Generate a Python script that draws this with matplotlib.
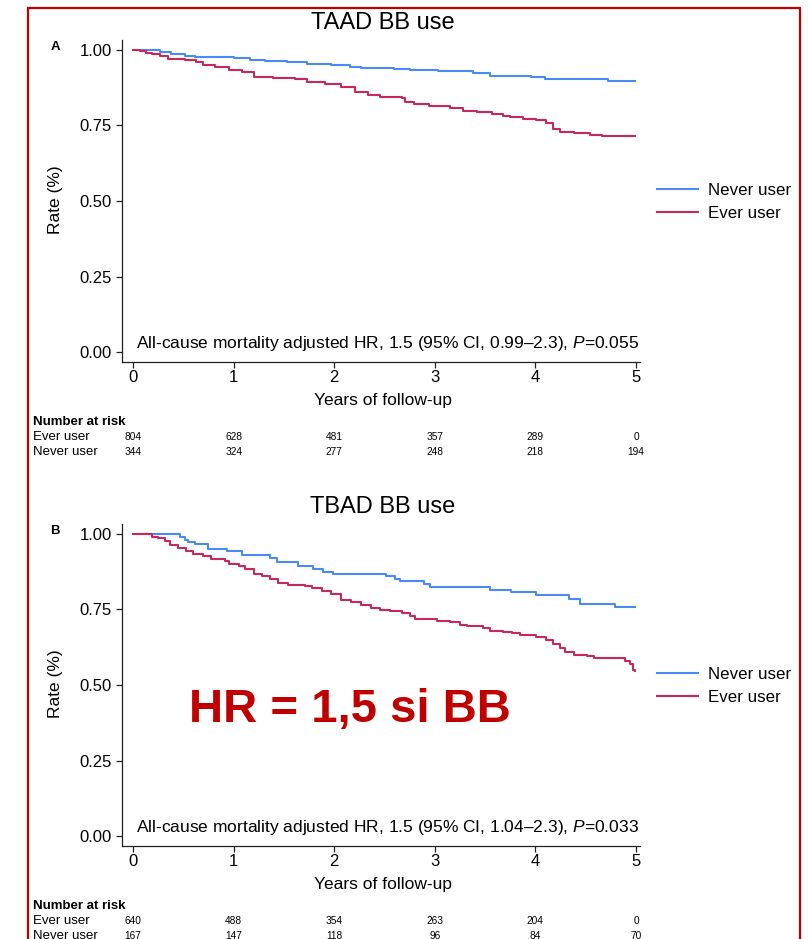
import matplotlib
matplotlib.use('Agg')
import matplotlib.pyplot as plt
from matplotlib.transforms import blended_transform_factory
from matplotlib.patches import Rectangle

plt.rcParams['font.family'] = ['Liberation Sans', 'DejaVu Sans']
plt.rcParams['mathtext.fontset'] = 'custom'
plt.rcParams['mathtext.rm'] = 'Liberation Sans'
plt.rcParams['mathtext.it'] = 'Liberation Sans:italic'

# --- data ---
years = [0, 1, 2, 3, 4, 5]

# TAAD
taad_never_t = [0, 0.27, 0.38, 0.52, 0.62, 1.00, 1.16, 1.31, 1.53, 1.73, 1.97, 2.16, 2.27, 2.59, 2.75,
                3.03, 3.38, 3.55, 3.96, 4.10, 4.72, 4.99]
taad_never_s = [1.0, 0.992, 0.987, 0.981, 0.976, 0.972, 0.967, 0.965, 0.959, 0.954, 0.950, 0.945, 0.940,
                0.937, 0.934, 0.930, 0.923, 0.915, 0.910, 0.903, 0.897, 0.897]
taad_ever_t = [0, 0.07, 0.13, 0.19, 0.27, 0.35, 0.52, 0.63, 0.70, 0.82, 0.95, 1.08, 1.20, 1.39, 1.61,
               1.73, 1.91, 2.07, 2.21, 2.34, 2.46, 2.67, 2.70, 2.79, 2.94, 3.15, 3.28, 3.42, 3.57, 3.68,
               3.75, 3.88, 4.01, 4.11, 4.18, 4.24, 4.38, 4.54, 4.66, 4.99]
taad_ever_s = [1.0, 0.995, 0.990, 0.987, 0.981, 0.970, 0.967, 0.959, 0.950, 0.943, 0.934, 0.926, 0.912,
               0.906, 0.904, 0.893, 0.887, 0.879, 0.860, 0.851, 0.845, 0.842, 0.829, 0.821, 0.816, 0.807,
               0.799, 0.794, 0.788, 0.782, 0.777, 0.771, 0.767, 0.757, 0.738, 0.727, 0.724, 0.719, 0.714,
               0.714]
taad_risk_ever = [804, 628, 481, 357, 289, 0]
taad_risk_never = [344, 324, 277, 248, 218, 194]

# TBAD
tbad_never_t = [0, 0.467, 0.517, 0.55, 0.616, 0.75, 0.93, 1.08, 1.36, 1.43, 1.64, 1.79, 1.89, 1.99, 2.52,
                2.60, 2.65, 2.89, 2.95, 3.55, 3.76, 4.01, 4.33, 4.44, 4.79, 4.99]
tbad_never_s = [1.0, 0.989, 0.980, 0.974, 0.966, 0.950, 0.943, 0.932, 0.921, 0.906, 0.894, 0.883, 0.874,
                0.869, 0.860, 0.850, 0.843, 0.833, 0.824, 0.816, 0.808, 0.799, 0.786, 0.767, 0.757, 0.757]
tbad_ever_t = [0, 0.12, 0.19, 0.25, 0.32, 0.37, 0.45, 0.53, 0.60, 0.70, 0.78, 0.91, 0.95, 1.05, 1.11,
               1.20, 1.28, 1.36, 1.44, 1.54, 1.71, 1.78, 1.88, 1.97, 2.07, 2.17, 2.27, 2.37, 2.455, 2.55,
               2.67, 2.75, 2.80, 3.02, 3.15, 3.25, 3.32, 3.48, 3.55, 3.68, 3.77, 3.85, 3.95, 4.01, 4.11,
               4.18, 4.24, 4.29, 4.38, 4.51, 4.58, 4.89, 4.94, 4.97, 4.99]
tbad_ever_s = [1.0, 0.999, 0.991, 0.986, 0.977, 0.963, 0.952, 0.943, 0.933, 0.928, 0.917, 0.911, 0.900,
               0.893, 0.883, 0.867, 0.860, 0.852, 0.839, 0.832, 0.828, 0.821, 0.811, 0.800, 0.783, 0.774,
               0.766, 0.754, 0.749, 0.745, 0.738, 0.728, 0.719, 0.713, 0.708, 0.700, 0.695, 0.688, 0.680,
               0.677, 0.672, 0.667, 0.666, 0.658, 0.649, 0.635, 0.622, 0.608, 0.600, 0.597, 0.589, 0.578,
               0.569, 0.549, 0.547]
tbad_risk_ever = [640, 488, 354, 263, 204, 0]
tbad_risk_never = [167, 147, 118, 96, 84, 70]

BLUE = '#4a8af4'
RED = '#c8285c'
DARK = '#222222'

W, H = 808, 939
fig = plt.figure(figsize=(W / 100, H / 100), dpi=100)


def fx(px):
    return px / W


def fy(py):
    return 1 - py / H


def panel(top, letter, title, t_never, s_never, t_ever, s_ever, note, risk_ever, risk_never):
    ax = fig.add_axes([fx(122), fy(top + 322), fx(640) - fx(122), 322 / H])
    l1, = ax.plot(t_never, s_never, drawstyle='steps-post', color=BLUE, lw=1.5)
    l2, = ax.plot(t_ever, s_ever, drawstyle='steps-post', color=RED, lw=1.5)
    ax.set_xlim(-0.109, 5.04)
    ax.set_ylim(-0.033, 1.033)
    ax.set_xticks(years)
    ax.set_yticks([0, 0.25, 0.5, 0.75, 1.0])
    ax.set_yticklabels(['0.00', '0.25', '0.50', '0.75', '1.00'])
    for s in ['top', 'right']:
        ax.spines[s].set_visible(False)
    for s in ['left', 'bottom']:
        ax.spines[s].set_color(DARK)
        ax.spines[s].set_linewidth(0.9)
    ax.tick_params(axis='both', length=4.5, width=0.9, color=DARK, labelsize=12)
    ax.tick_params(axis='x', pad=1.5)
    ax.tick_params(axis='y', pad=3)

    ax.text(5.03, 0.028, note, ha='right', va='center', fontsize=12.5)
    ax.legend([l1, l2], ['Never user', 'Ever user'], loc='center left',
              bbox_to_anchor=(fx(657), fy(top + 162)), bbox_transform=fig.transFigure,
              frameon=False, handlelength=2.4, handletextpad=0.6, labelspacing=0.45,
              borderpad=0, borderaxespad=0, fontsize=12.2)

    fig.text(fx(383), fy(top - 17), title, ha='center', va='center', fontsize=17)
    fig.text(fx(55), fy(top + 7), letter, ha='center', va='center', fontsize=9.5, fontweight='bold')
    fig.text(fx(55), fy(top + 160), 'Rate (%)', ha='center', va='center', rotation=90, fontsize=12.5)
    fig.text(fx(383), fy(top + 361), 'Years of follow-up', ha='center', va='center', fontsize=12.5)

    # number at risk table
    fig.text(fx(33), fy(top + 382), 'Number at risk', ha='left', va='center', fontsize=9.5,
             fontweight='bold')
    fig.text(fx(33), fy(top + 397), 'Ever user', ha='left', va='center', fontsize=9.5)
    fig.text(fx(33), fy(top + 412), 'Never user', ha='left', va='center', fontsize=9.5)
    tr = blended_transform_factory(ax.transData, fig.transFigure)
    for x, a, b in zip(years, risk_ever, risk_never):
        ax.text(x, fy(top + 397), str(a), transform=tr, ha='center', va='center', fontsize=7.3)
        ax.text(x, fy(top + 412), str(b), transform=tr, ha='center', va='center', fontsize=7.3)
    return ax


panel(40, 'A', 'TAAD BB use', taad_never_t, taad_never_s, taad_ever_t, taad_ever_s,
      'All-cause mortality adjusted HR, 1.5 (95% CI, 0.99\u20132.3), $\\mathit{P}$=0.055',
      taad_risk_ever, taad_risk_never)
panel(524, 'B', 'TBAD BB use', tbad_never_t, tbad_never_s, tbad_ever_t, tbad_ever_s,
      'All-cause mortality adjusted HR, 1.5 (95% CI, 1.04\u20132.3), $\\mathit{P}$=0.033',
      tbad_risk_ever, tbad_risk_never)

fig.text(fx(350), fy(710), 'HR = 1,5 si BB', ha='center', va='center', fontsize=34,
         fontweight='bold', color='#c00000')

fig.add_artist(Rectangle((fx(28), -0.1), fx(800) - fx(28), fy(8) + 0.1, transform=fig.transFigure,
                         fill=False, edgecolor='#c00000', lw=1.6))

fig.savefig('out.png', dpi=100)
